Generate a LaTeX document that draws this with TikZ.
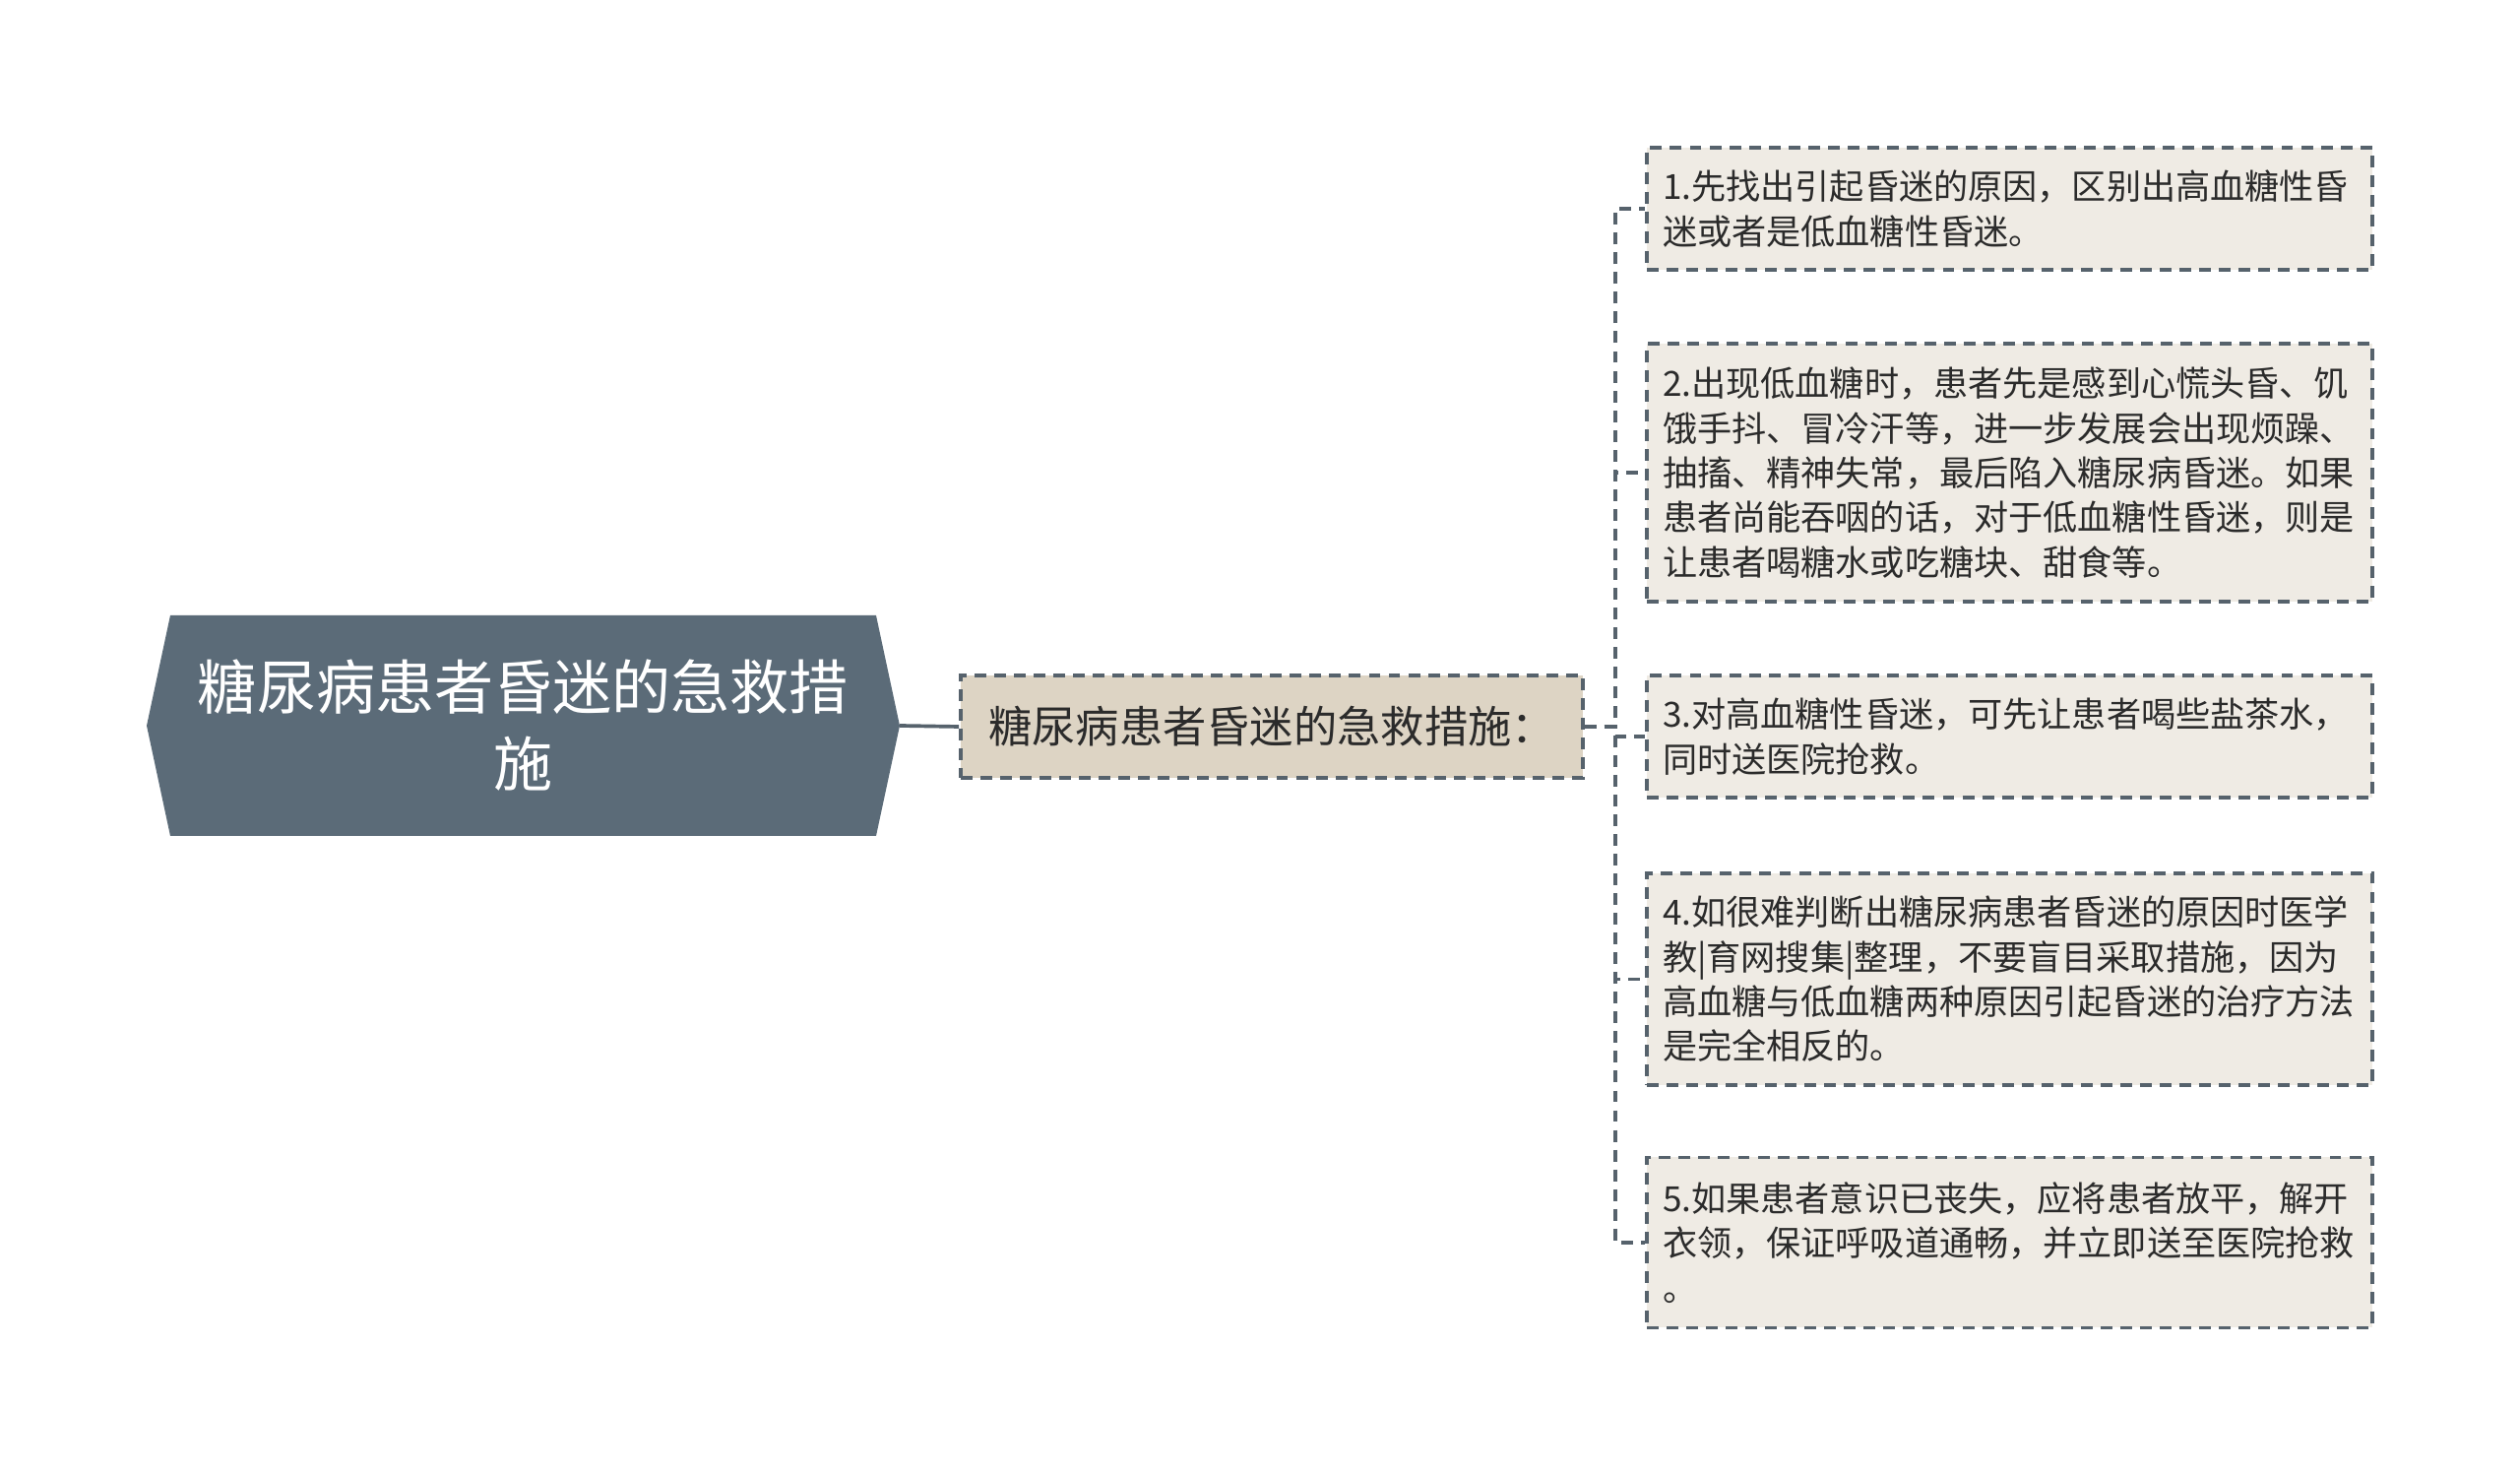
\documentclass[tikz,border=0pt]{standalone}
\usepackage{fontspec}
\setmainfont{Noto Sans CJK SC}

\definecolor{slate}{HTML}{5B6B78}
\definecolor{edge}{HTML}{56626C}
\definecolor{sand}{HTML}{DDD4C4}
\definecolor{paper}{HTML}{EFEBE4}
\definecolor{ink}{HTML}{2B2B2B}

\begin{document}
\begin{tikzpicture}[
						rt/.style = {
							text = white,
							align = center,
							inner sep = 0,
							font = \fontsize{17.1pt}{22.2pt}\selectfont
						},
						br/.style = {
							draw = edge,
							fill = sand,
							dash pattern = on 3.4pt off 2.3pt,
							line width = 1.05pt,
							inner sep = 0,
							minimum width = 6.32cm,
							minimum height = 1.04cm,
							text = ink,
							font = \fontsize{12.6pt}{15pt}\selectfont
						},
						lf/.style = {
							draw = edge,
							fill = paper,
							dash pattern = on 3.4pt off 2.3pt,
							line width = 1.05pt,
							align = left,
							text width = 7.05cm,
							inner xsep = 0.16cm,
							inner ysep = 0,
							text = ink,
							font = \fontsize{10pt}{12.9pt}\selectfont
						},
						ln/.style = {
							draw = edge,
							line width = 1.05pt
						}
					]
				\useasboundingbox (0, 0) rectangle (25.6, 14.98);

				% root hexagon
				\coordinate (a) at (1.49, 7.61);
				\coordinate (b) at (1.73, 8.73);
				\coordinate (c) at (8.90, 8.73);
				\coordinate (rtip) at (9.14, 7.61);
				\coordinate (e) at (8.90, 6.49);
				\coordinate (f) at (1.73, 6.49);
				\fill [slate] (a) -- (b) -- (c) -- (rtip) -- (e) -- (f) -- cycle;
				\node [rt] (root) at (5.315, 7.61) {糖尿病患者昏迷的急救措\\施};

				\node [br] (branch) at (12.92, 7.60) {糖尿病患者昏迷的急救措施：};

				\node [lf, minimum height = 1.24cm] (c1) at (20.415, 12.86)
					{1.先找出引起昏迷的原因，区别出高血糖性昏\\迷或者是低血糖性昏迷。};
				\node [lf, minimum height = 2.62cm] (c2) at (20.415, 10.18)
					{2.出现低血糖时，患者先是感到心慌头昏、饥\\饿手抖、冒冷汗等，进一步发展会出现烦躁、\\抽搐、精神失常，最后陷入糖尿病昏迷。如果\\患者尚能吞咽的话，对于低血糖性昏迷，则是\\让患者喝糖水或吃糖块、甜食等。};
				\node [lf, minimum height = 1.24cm] (c3) at (20.415, 7.50)
					{3.对高血糖性昏迷，可先让患者喝些盐茶水，\\同时送医院抢救。};
				\node [lf, minimum height = 2.15cm] (c4) at (20.415, 5.035)
					{4.如很难判断出糖尿病患者昏迷的原因时医学\\教|育网搜集|整理，不要盲目采取措施，因为\\高血糖与低血糖两种原因引起昏迷的治疗方法\\是完全相反的。};
				\node [lf, minimum height = 1.73cm] (c5) at (20.415, 2.36)
					{5.如果患者意识已丧失，应将患者放平，解开\\衣领，保证呼吸道通畅，并立即送至医院抢救\\。};

				\coordinate (fork) at (16.41, 7.60);

				\draw [ln] (rtip) -- (branch.west);
				\foreach \i in {1,...,5}
					\draw [ln, dash pattern = on 3.4pt off 2.3pt] (branch.east) -- (fork) |- (c\i.west);
			\end{tikzpicture}
\end{document}
